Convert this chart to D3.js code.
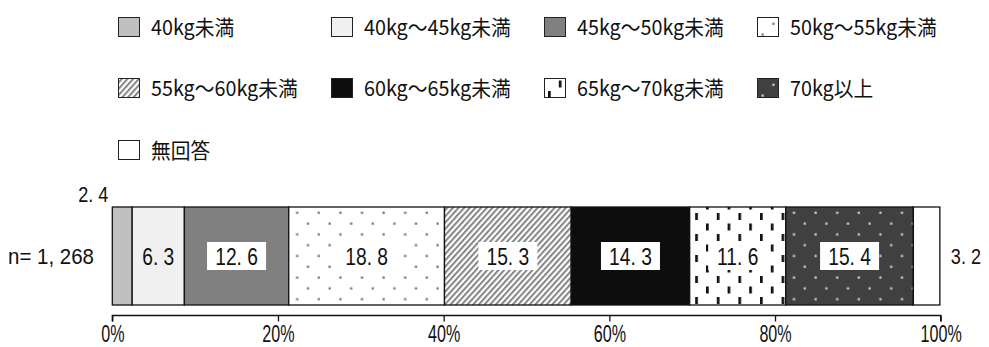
<!DOCTYPE html>
<html><head><meta charset="utf-8">
<script src="https://cdn.jsdelivr.net/npm/d3@7"></script>
<style>
html,body{margin:0;padding:0;background:#fff;}
svg{display:block;}
</style></head>
<body>
<svg id="chart" width="989" height="347"></svg>
<script>
const categories = ["40kg未満","40kg～45kg未満","45kg～50kg未満","50kg～55kg未満","55kg～60kg未満","60kg～65kg未満","65kg～70kg未満","70kg以上","無回答"];
const values = [2.4, 6.3, 12.6, 18.8, 15.3, 14.3, 11.6, 15.4, 3.2];
const sampleLabel = "n= 1, 268";
const tickValues = [0, 20, 40, 60, 80, 100];

const FONT = "'Noto Sans CJK JP','Noto Sans',sans-serif";
const NUMFONT = "'Liberation Sans','Noto Sans',sans-serif";
const svg = d3.select("#chart");
const defs = svg.append("defs");

function squeeze(sel, f){
  sel.each(function(){
    const w = this.getComputedTextLength();
    d3.select(this).attr("textLength", w * f).attr("lengthAdjust", "spacingAndGlyphs");
  });
}

// patterns
function dotPattern(id, bg, dot, r){
  const p = defs.append("pattern").attr("id", id).attr("patternUnits","userSpaceOnUse")
    .attr("width", 21.6).attr("height", 21.6).attr("x", 0).attr("y", 2);
  p.append("rect").attr("width",21.6).attr("height",21.6).attr("fill",bg);
  p.append("rect").attr("x",4.5).attr("y",4.5).attr("width",r).attr("height",r).attr("fill",dot);
  p.append("rect").attr("x",15.3).attr("y",15.3).attr("width",r).attr("height",r).attr("fill",dot);
}
dotPattern("p50", "#ffffff", "#6e6e6e", 2.2);
dotPattern("p70", "#404040", "#d4d4d4", 2.2);
{
  const p = defs.append("pattern").attr("id","p55").attr("patternUnits","userSpaceOnUse")
    .attr("width",4.2).attr("height",10).attr("patternTransform","rotate(42)");
  p.append("rect").attr("width",4.2).attr("height",10).attr("fill","#ffffff");
  p.append("rect").attr("width",2).attr("height",10).attr("fill","#858585");
}
{
  const p = defs.append("pattern").attr("id","p65").attr("patternUnits","userSpaceOnUse")
    .attr("width",21.6).attr("height",21).attr("x",4).attr("y",3);
  p.append("rect").attr("width",21.6).attr("height",21).attr("fill","#ffffff");
  p.append("rect").attr("x",0).attr("y",0).attr("width",2.7).attr("height",7).attr("fill","#111");
  p.append("rect").attr("x",10.8).attr("y",10.5).attr("width",2.7).attr("height",7).attr("fill","#111");
}
const fills = ["#c0c0c0","#f0f0f0","#808080","url(#p50)","url(#p55)","#0d0d0d","url(#p65)","url(#p70)","#ffffff"];

// scales
const x = d3.scaleLinear().domain([0, 100]).range([112.3, 940.7]);
const barY = 207, barH = 98;
let acc = 0;
const segs = values.map((v, i) => { const s = {i, v, x0: acc, x1: acc + v}; acc += v; return s; });

// legend
const legCols = 4, colX = d3.scaleLinear().domain([0,1]).range([118, 331]);
const rowY = [27, 88, 150];
const leg = svg.append("g").selectAll("g").data(categories).join("g")
  .attr("transform", (d, i) => `translate(${colX(i % legCols)},${rowY[Math.floor(i / legCols)]})`);
leg.append("rect").attr("x",0.5).attr("y",-9.5).attr("width",21).attr("height",19)
  .attr("fill",(d,i)=>fills[i]).attr("stroke","#222").attr("stroke-width",1);
leg.append("text").attr("x",33).attr("y",0).attr("dy","0.36em")
  .attr("font-family",FONT).attr("font-size",21).attr("fill","#111").text(d=>d)
  .call(squeeze, 0.94);

// bars
svg.append("g").selectAll("rect").data(segs).join("rect")
  .attr("x", d => x(d.x0)).attr("y", barY)
  .attr("width", d => x(d.x1) - x(d.x0)).attr("height", barH)
  .attr("fill", d => fills[d.i]).attr("stroke","#111").attr("stroke-width",1.3);

const fmt = v => d3.format(".1f")(v).replace(".", ". ");
const midY = barY + barH / 2;
const inner = segs.filter(d => d.i > 0 && d.i < values.length - 1);
const lab = svg.append("g").selectAll("g").data(inner).join("g")
  .attr("transform", d => `translate(${(x(d.x0)+x(d.x1))/2},${midY})`);
lab.append("rect").attr("x",-29.5).attr("y",-14).attr("width",59).attr("height",28)
  .attr("fill", d => d.i === 1 ? "none" : "#ffffff");
lab.append("text").attr("text-anchor","middle").attr("y",8.5)
  .attr("font-family",NUMFONT).attr("font-size",24).attr("fill","#111").text(d => fmt(d.v))
  .call(squeeze, 0.8);

// outside labels
const first = segs[0], last = segs[segs.length-1];
svg.append("text").attr("x", x(first.x0) - 4).attr("y", 201.5)
  .attr("text-anchor","end").attr("font-family",NUMFONT).attr("font-size",22).attr("fill","#111")
  .text(fmt(first.v)).call(squeeze, 0.82);
svg.append("text").attr("x", x(last.x1) + 11).attr("y", midY + 8)
  .attr("font-family",NUMFONT).attr("font-size",22).attr("fill","#111").text(fmt(last.v))
  .call(squeeze, 0.82);
svg.append("text").attr("x", 94).attr("y", midY + 8).attr("text-anchor","end")
  .attr("font-family",NUMFONT).attr("font-size",22).attr("fill","#111").text(sampleLabel)
  .call(squeeze, 0.93);

// axis
const axis = svg.append("g").attr("transform", `translate(0,315.5)`)
  .call(d3.axisBottom(x).tickValues(tickValues).tickFormat(d => d + "%").tickSize(6));
axis.select(".domain").attr("stroke","#111").attr("stroke-width",1.3).attr("d", `M${x(0)},6V0H${x(100)}V6`);
axis.selectAll(".tick line").attr("stroke","#111").attr("stroke-width",1.3);
axis.selectAll(".tick text").attr("y", 26.5).attr("dy", null)
  .attr("font-family",NUMFONT).attr("font-size",23).attr("fill","#111")
  .call(squeeze, 0.7);
</script>
</body></html>
